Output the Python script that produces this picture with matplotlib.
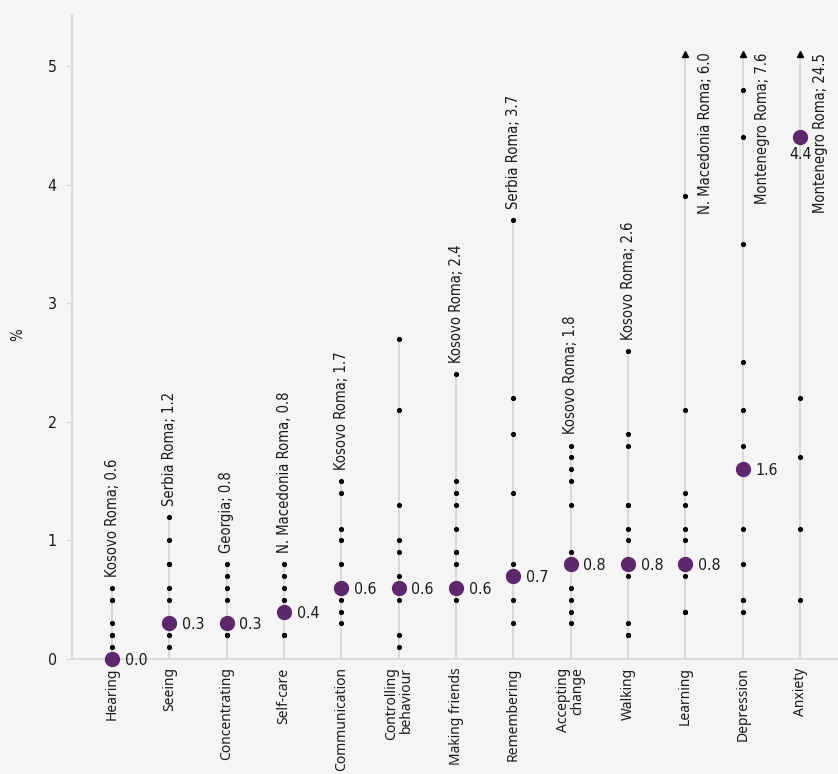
import numpy as np
import matplotlib
matplotlib.use('Agg')
import matplotlib.pyplot as plt
from matplotlib import font_manager

# fonts: a narrow face for the numbers / notes, a regular one for the categories
fl = font_manager.fontManager.ttflist
names = {f.name for f in fl}
if 'Liberation Sans Narrow' in names:
    NARROW, STRETCH, NS = 'Liberation Sans Narrow', 'normal', 12.5
elif any(f.name == 'DejaVu Sans' and 'condensed' in str(f.stretch) for f in fl):
    NARROW, STRETCH, NS = 'DejaVu Sans', 'condensed', 10.6
else:
    NARROW, STRETCH, NS = 'Roboto', 'normal', 10.7
TXT = dict(fontsize=NS, family=NARROW, stretch=STRETCH, color='#1a1a1a')
NUM = dict(TXT, fontsize=NS * 1.08)

# ---------------------------------
# data
# ---------------------------------
categories = ['Hearing', 'Seeing', 'Concentrating', 'Self-care', 'Communication',
              'Controlling\nbehaviour', 'Making friends', 'Remembering',
              'Accepting\nchange', 'Walking', 'Learning', 'Depression', 'Anxiety']

# average (big purple dot)
means = [0.0, 0.3, 0.3, 0.4, 0.6, 0.6, 0.6, 0.7, 0.8, 0.8, 0.8, 1.6, 4.4]

# single countries / groups (small black dots)
hearing = [0.6, 0.5, 0.5, 0.3, 0.2, 0.2, 0.1]
seeing = [1.2, 1.0, 0.8, 0.8, 0.6, 0.5, 0.2, 0.1]
concentrating = [0.8, 0.7, 0.6, 0.5, 0.2, 0.2]
self_care = [0.8, 0.7, 0.6, 0.5, 0.2, 0.2]
communication = [1.5, 1.4, 1.1, 1.0, 0.8, 0.5, 0.4, 0.3]
controlling = [2.7, 2.1, 1.3, 1.0, 0.9, 0.7, 0.5, 0.2, 0.1]
making_friends = [2.4, 1.5, 1.4, 1.3, 1.1, 0.9, 0.9, 0.8, 0.5]
remembering = [3.7, 2.2, 1.9, 1.4, 0.8, 0.5, 0.3]
accepting = [1.8, 1.7, 1.6, 1.5, 1.3, 0.9, 0.6, 0.5, 0.4, 0.3]
walking = [2.6, 1.9, 1.8, 1.3, 1.3, 1.1, 1.0, 0.7, 0.3, 0.2, 0.2]
learning = [6.0, 3.9, 2.1, 1.4, 1.3, 1.1, 1.0, 0.7, 0.4, 0.4]
depression = [7.6, 4.8, 4.4, 3.5, 2.5, 2.1, 1.8, 1.1, 0.8, 0.5, 0.5, 0.4]
anxiety = [24.5, 2.2, 1.7, 1.1, 0.5]

values = [hearing, seeing, concentrating, self_care, communication, controlling,
          making_friends, remembering, accepting, walking, learning, depression, anxiety]

max_labels = ['Kosovo Roma; 0.6', 'Serbia Roma; 1.2', 'Georgia; 0.8',
              'N. Macedonia Roma, 0.8', 'Kosovo Roma; 1.7', '',
              'Kosovo Roma; 2.4', 'Serbia Roma; 3.7', 'Kosovo Roma; 1.8',
              'Kosovo Roma; 2.6', 'N. Macedonia Roma; 6.0',
              'Montenegro Roma; 7.6', 'Montenegro Roma; 24.5']

# ---------------------------------
# plot
# ---------------------------------
BG = '#f5f5f5'
PURPLE = '#5e286c'
GREY = '#d6d6d6'
CAP = 5.1  # values above this get an arrow

fig = plt.figure(figsize=(8.38, 7.74), dpi=100, facecolor=BG)
ax = fig.add_axes([72 / 838, 115 / 774, 766 / 838, 644 / 774])
ax.set_facecolor(BG)

for i, vals in enumerate(values):
    vals = np.array(vals)
    top = min(vals.max(), CAP)
    ax.plot([i, i], [0, top], color=GREY, lw=1.3, zorder=1)
    inside = vals[vals <= CAP]
    ax.plot(np.full(len(inside), i), inside, 'o', color='black', ms=2.7,
            zorder=2, clip_on=False)
    if vals.max() > CAP:
        ax.plot(i, CAP, '^', color='black', ms=4, zorder=2, clip_on=False)
        ax.annotate(max_labels[i], (i, CAP), xytext=(9, 1), textcoords='offset points',
                    rotation=90, ha='left', va='top', **TXT)
    elif max_labels[i]:
        ax.annotate(max_labels[i], (i, vals.max()), xytext=(0, 8), textcoords='offset points',
                    rotation=90, ha='center', va='bottom', **TXT)

    # average
    ax.plot(i, means[i], 'o', color=PURPLE, ms=10, zorder=3, clip_on=False)
    if means[i] > 4:
        ax.annotate(f'{means[i]:.1f}', (i, means[i]), xytext=(0, -7), textcoords='offset points',
                    ha='center', va='top', **NUM)
    else:
        ax.annotate(f'{means[i]:.1f}', (i, means[i]), xytext=(9, 0), textcoords='offset points',
                    ha='left', va='center_baseline', **NUM)

ax.set_xlim(-0.70, 12.66)
ax.set_ylim(0, 5.43)
ax.set_yticks(range(6))
ax.set_xticks(range(len(categories)))
ax.set_xticklabels(categories, rotation=90, fontsize=10, family='Noto Sans',
                   color='#1a1a1a', multialignment='right', linespacing=0.95)
for lab in ax.get_yticklabels():
    lab.set_family(NARROW)
    lab.set_stretch(STRETCH)
    lab.set_fontsize(NUM['fontsize'])
    lab.set_color('#1a1a1a')
ax.tick_params(axis='x', length=0, pad=6)
ax.tick_params(axis='y', length=4, color=GREY, pad=7)

for s in ['top', 'right']:
    ax.spines[s].set_visible(False)
for s in ['left', 'bottom']:
    ax.spines[s].set_color(GREY)
    ax.spines[s].set_linewidth(1.2)

fig.text(18 / 838, 1 - 335 / 774, '%', rotation=90, ha='center', va='center', **TXT)

fig.savefig('out.png', dpi=100, facecolor=BG)
